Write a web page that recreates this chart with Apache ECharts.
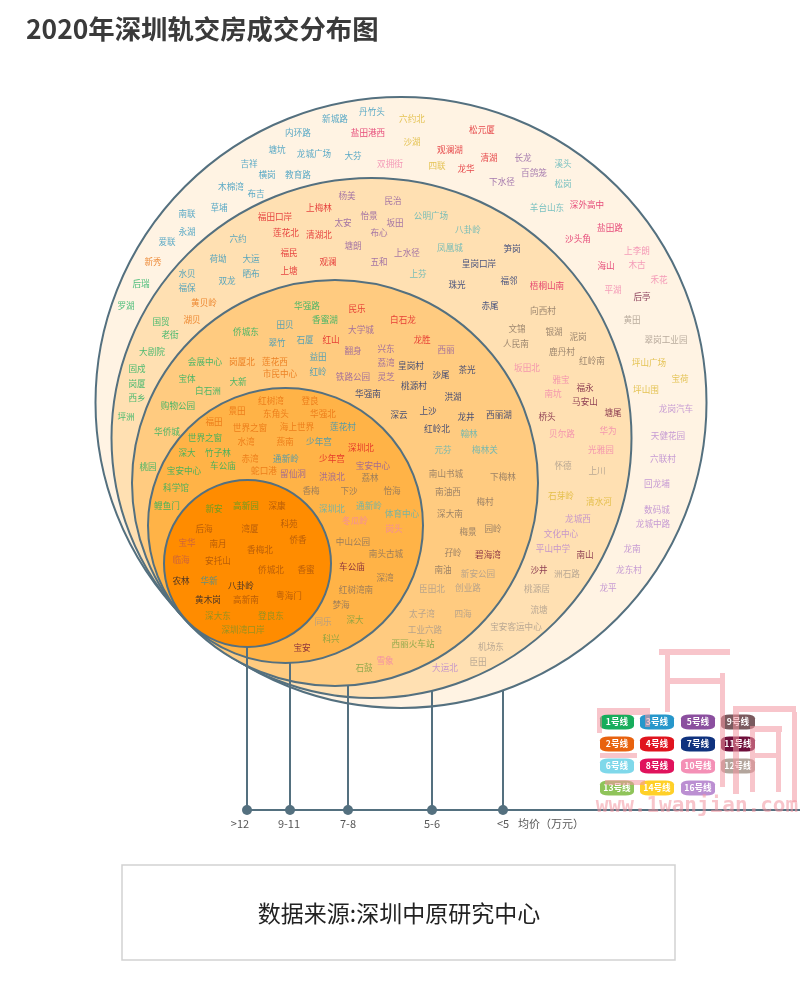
<!DOCTYPE html>
<html><head><meta charset="utf-8">
<style>html,body{margin:0;padding:0;background:#fff}#c{width:800px;height:1000px}</style>
<script src="https://cdn.jsdelivr.net/npm/echarts@6/dist/echarts.min.js"></script>
</head><body><div id="c"></div>
<script>
const FONT='"Noto Sans CJK SC","Noto Sans",sans-serif';
const titleText='2020年深圳轨交房成交分布图';
const sourceText='数据来源:深圳中原研究中心';
// price bands, outermost first: centre x, centre y, radius
const ringCx=[401,371.5,335,285.5,247.5];
const ringCy=[402.5,438,483,525.5,563.5];
const ringR=[305.5,260,203,137.5,83.5];
const ringFill=['#FFF3E3','#FFE0B2','#FFCB80','#FFB347','#FF8C00'];
// price axis
const bandLabels=['>12','9-11','7-8','5-6','<5'];
const bandTickX=[247,290,348,432,503];
const bandTop=[647,663,685,691,690];
const bandLabelX=[240,289,348,432,503];
const axisName='均价(万元)'.replace('(','（').replace(')','）');
// stations: name, x, y, grouped by metro line
const line1=[['后瑞',141,284],['罗湖',126,306],['固戍',137,369],['岗厦',137,384],['西乡',137,398],['坪洲',126,417],['国贸',161,322],['老街',170,335],['大剧院',152,352],['桃园',148,467],['华强路',307,306],['香蜜湖',325,320],['侨城东',246,332],['会展中心',205,362],['宝体',187,379],['大新',238,382],['白石洲',208,391],['购物公园',178,406],['华侨城',167,432],['世界之窗',205,438],['深大',187,453],['竹子林',218,453],['宝安中心',184,471],['车公庙',223,466],['科学馆',176,488],['鲤鱼门',167,506],['新安',214,509],['高新园',246,506]];
const line2=[['新秀',153,262],['黄贝岭',204,303],['湖贝',192,320],['岗厦北',242,362],['莲花西',275,362],['市民中心',280,374],['红树湾',271,401],['登良',310,401],['景田',237,411],['东角头',276,414],['华强北',323,414],['福田',214,422],['世界之窗',250,428],['海上世界',297,427],['水湾',246,442],['燕南',285,442],['赤湾',250,459],['蛇口港',264,471],['深康',277,506],['后海',204,529],['湾厦',250,529],['科苑',289,524],['南月',218,544],['侨香',298,540],['香梅北',260,550],['安托山',218,561],['侨城北',271,570],['香蜜',306,570],['粤海门',289,596],['高新南',246,600]];
const line3=[['丹竹头',372,112],['新城路',335,119],['内环路',298,133],['塘坑',277,150],['龙城广场',314,154],['大芬',353,156],['吉祥',249,164],['横岗',267,175],['教育路',298,175],['木棉湾',231,187],['布吉',256,194],['南联',187,214],['草埔',219,208],['永湖',187,232],['爱联',167,242],['六约',238,239],['荷坳',218,259],['大运',251,259],['水贝',187,274],['晒布',251,274],['双龙',227,281],['福保',187,288],['田贝',285,325],['翠竹',277,343],['石厦',305,340],['益田',318,357],['红岭',318,372],['莲花村',343,427],['少年宫',319,442],['通新岭',286,459],['华新',209,581]];
const line4=[['观澜湖',450,150],['松元厦',482,130],['清湖',489,158],['龙华',466,169],['上梅林',319,208],['福田口岸',275,217],['莲花北',286,233],['清湖北',319,235],['福民',289,253],['观澜',328,262],['上塘',289,271],['民乐',357,309],['白石龙',403,320],['红山',331,340],['龙胜',422,340],['深圳北',361,448],['少年宫',332,459]];
const line5=[['长龙',523,158],['百鸽笼',534,173],['下水径',502,182],['杨美',347,196],['民治',393,201],['怡景',369,216],['太安',343,223],['坂田',395,223],['布心',379,233],['塘朗',353,246],['五和',379,262],['上水径',407,253],['大学城',361,330],['西丽',446,350],['翻身',353,351],['兴东',386,349],['荔湾',386,363],['灵芝',386,377],['铁路公园',353,377],['宝安中心',373,466],['留仙洞',293,474],['洪浪北',332,477],['宝华',187,543],['临海',181,560]];
const line6=[['溪头',563,164],['松岗',563,184],['羊台山东',547,208],['公明广场',431,216],['八卦岭',468,230],['凤凰城',450,248],['上芬',418,274],['翰林',469,434],['元芬',443,450],['梅林关',485,450],['深圳北',332,509],['通新岭',369,506],['体育中心',402,514]];
const line7=[['笋岗',512,249],['皇岗口岸',479,264],['福邻',509,281],['珠光',457,285],['赤尾',490,306],['皇岗村',411,366],['沙尾',441,375],['茶光',467,370],['桃源村',414,386],['洪湖',453,397],['华强南',368,394],['深云',399,415],['上沙',428,411],['龙井',466,417],['西丽湖',499,415],['红岭北',437,429],['农林',181,581],['八卦岭',241,586],['黄木岗',208,600]];
const line8=[['盐田港西',368,133],['深外高中',587,205],['盐田路',610,228],['沙头角',578,239],['海山',606,266],['梧桐山南',547,286]];
const line9=[['向西村',543,311],['文锦',517,329],['银湖',554,332],['泥岗',578,337],['人民南',516,344],['鹿丹村',562,352],['红岭南',592,361],['荔林',370,478],['香梅',311,491],['下沙',349,491],['怡海',392,491],['中山公园',353,542],['南头古城',386,554],['深湾',385,578],['红树湾南',356,590],['梦海',341,605],['南山书城',446,474],['下梅林',503,477],['南油西',448,492],['梅村',485,502],['深大南',450,514],['梅景',468,532],['园岭',493,529],['孖岭',453,553],['南油',443,570]];
const line10=[['双拥街',390,164],['上李朗',637,251],['木古',637,265],['禾花',659,280],['平湖',613,290],['坂田北',527,368],['雅宝',561,380],['南坑',553,394],['贝尔路',562,434],['华为',608,431],['光雅园',601,450],['冬瓜岭',355,521],['岗头',394,529],['雪象',385,661]];
const line11=[['后亭',642,297],['福永',585,388],['马安山',585,402],['桥头',547,417],['塘尾',613,413],['南山',585,555],['沙井',539,570],['碧海湾',488,555],['车公庙',352,567],['宝安',302,648]];
const line12=[['黄田',632,320],['翠岗工业园',666,340],['怀德',563,466],['上川',597,471],['洲石路',567,574],['桃源居',537,589],['流塘',539,610],['宝安客运中心',516,627],['机场东',491,647],['臣田',478,662],['新安公园',478,574],['臣田北',432,589],['创业路',468,588],['太子湾',422,614],['四海',463,614],['工业六路',425,630],['同乐',323,622]];
const line13=[['石鼓',364,668],['西丽火车站',413,644],['深大',355,620],['科兴',331,639],['深大东',218,616],['登良东',271,616],['深圳湾口岸',243,630]];
const line14=[['六约北',412,119],['沙湖',412,142],['四联',437,166],['坪山广场',649,363],['宝荷',680,379],['坪山围',646,390],['石芽岭',561,496],['清水河',599,502]];
const line16=[['龙岗汽车',676,409],['天健花园',668,436],['六联村',663,459],['回龙埔',657,484],['数码城',657,510],['龙城中路',653,524],['龙南',632,549],['龙东村',629,570],['龙平',608,588],['龙城西',578,519],['文化中心',561,534],['平山中学',553,549],['大运北',445,668]];
// legend
const lineNames=['1号线','3号线','5号线','9号线','2号线','4号线','7号线','11号线','6号线','8号线','10号线','12号线','13号线','14号线','16号线'];
const lineColors=['#17AD5C','#2697CB','#8B4F9F','#7A5A5E','#E8620F','#E0141E','#0F327E','#6E0E3A','#7FD8EA','#E0125C','#F490B6','#B3A59C','#8FC45A','#FFD028','#BB8FD2'];
const textColors=['#1FB060','#2F96BE','#8F5BA0','#85705F','#E8700F','#E01A22','#1A3070','#6E1238','#58B4B8','#E0205F','#F184AC','#A89A8C','#78A040','#DDB630','#B884CF'];
const innerColors=['#4FA028','#3F8F98','#C05A48','#6A4A20','#A8520A','#B02A10','#202030','#5A1020','#3F8F98','#B02A30','#C86A50','#9A6A30','#7C9428','#B08A10','#A06A60'];
const legendX=[617,657,698,738,617,657,698,738,617,657,698,738,617,657,698];
const legendY=[722,722,722,722,744,744,744,744,766,766,766,766,788,788,788];
const lineStations=[line1,line3,line5,line9,line2,line4,line7,line11,line6,line8,line10,line12,line13,line14,line16];
const watermarkText='www.1wanjian.com';

const STROKE='#54707F';
const inInner=(x,y)=>Math.hypot(x-ringCx[4],y-ringCy[4])<ringR[4];
const series=[];
series.push({type:'scatter',silent:true,z:1,symbol:'circle',
  data:ringR.map((r,i)=>[ringCx[i],ringCy[i],r]),
  symbolSize:d=>d[2]*2,
  itemStyle:{opacity:1,color:p=>ringFill[p.dataIndex],borderColor:STROKE,borderWidth:2}});
bandLabels.forEach((b,i)=>{
  series.push({type:'line',silent:true,z:2,symbol:'none',
    data:[[bandTickX[i],bandTop[i]],[bandTickX[i],810]],lineStyle:{color:STROKE,width:2}});
});
series.push({type:'line',silent:true,z:2,symbol:'none',data:[[bandTickX[0],810],[800,810]],lineStyle:{color:STROKE,width:2}});
series.push({type:'scatter',silent:true,z:3,symbol:'circle',symbolSize:10,
  data:bandTickX.map(x=>[x,810]),itemStyle:{color:STROKE,opacity:1}});
series.push({type:'scatter',silent:true,z:3,symbolSize:0,
  data:bandLabels.map((b,i)=>({name:b,value:[bandLabelX[i],824]})).concat([{name:axisName,value:[551,824]}]),
  label:{show:true,position:'inside',formatter:'{b}',fontSize:11,color:'#2A2A2A',fontFamily:FONT}});
lineStations.forEach((list,i)=>{
  series.push({type:'scatter',name:lineNames[i],silent:true,z:5,symbolSize:0,
    data:list.map(s=>({name:s[0],value:[s[1],s[2]],label:{color:inInner(s[1],s[2])?innerColors[i]:textColors[i]}})),
    label:{show:true,position:'inside',formatter:'{b}',fontSize:8.6,fontFamily:FONT}});
});
series.push({type:'scatter',silent:true,z:6,symbol:'roundRect',symbolSize:[34,15],
  data:lineNames.map((n,i)=>({name:n,value:[legendX[i],legendY[i]]})),
  itemStyle:{opacity:1,color:p=>lineColors[p.dataIndex]},
  label:{show:true,position:'inside',formatter:'{b}',fontSize:8.6,fontWeight:'bold',color:'#fff',fontFamily:FONT}});

const WM='rgba(243,150,160,0.55)';
const wmRects=[[659,649,71,6],[665,655,5,57],[670,678,50,6],[720,673,5,114],[597,708,53,7],[597,715,5,18],[645,715,5,12],[600,753,37,5],[605,780,40,5],[733,706,63,6],[733,712,6,82],[792,712,5,90],[750,726,32,6],[750,732,5,60],[776,732,5,60],[755,753,21,5]];
const graphic=wmRects.map(r=>({type:'rect',z:20,silent:true,shape:{x:r[0],y:r[1],width:r[2],height:r[3]},style:{fill:WM}}));
graphic.push({type:'text',z:20,silent:true,x:697,y:807,style:{text:watermarkText,fill:WM,font:'bold 21px "DejaVu Sans Mono",monospace',align:'center',verticalAlign:'middle'}});
graphic.push({type:'rect',z:1,silent:true,shape:{x:122,y:865,width:553,height:95},style:{fill:'#fff',stroke:'#D2D2D2',lineWidth:1.5}});
graphic.push({type:'text',z:2,silent:true,x:399,y:913,style:{text:sourceText,fill:'#222',font:'23px '+FONT,align:'center',verticalAlign:'middle'}});

echarts.init(document.getElementById('c')).setOption({
  animation:false,backgroundColor:'#fff',
  title:{text:titleText,left:21,top:11,textStyle:{fontFamily:FONT,fontSize:26.4,fontWeight:'bold',color:'#3A3A3A'}},
  grid:{left:0,right:0,top:0,bottom:0},
  xAxis:{type:'value',min:0,max:800,show:false},
  yAxis:{type:'value',min:0,max:1000,inverse:true,show:false},
  series,graphic
});
</script></body></html>
